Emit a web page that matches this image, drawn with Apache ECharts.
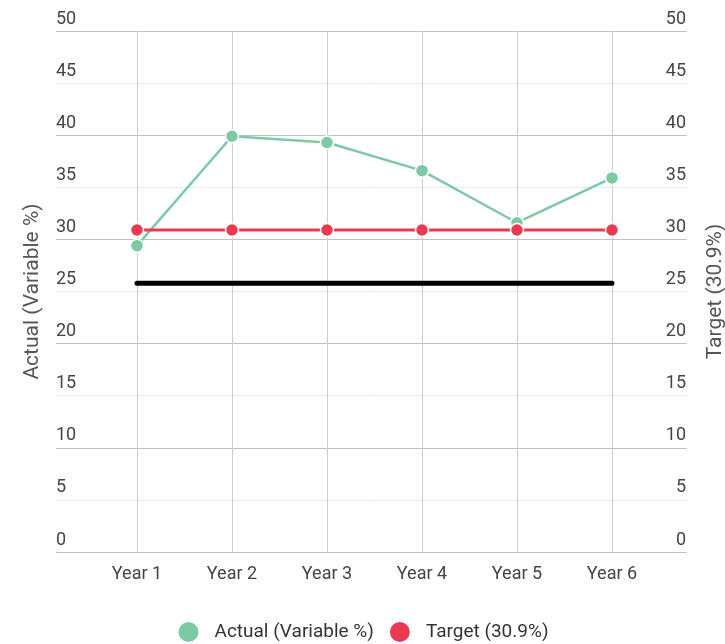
<!DOCTYPE html>
<html>
<head>
<meta charset="utf-8">
<script src="https://cdn.jsdelivr.net/npm/echarts@6/dist/echarts.min.js"></script>
<style>
  html, body { margin: 0; padding: 0; background: #fff; }
  #chart { width: 725px; height: 644px; }
</style>
</head>
<body>
<div id="chart"></div>
<script>
// Categories and series values
const years = ['Year 1', 'Year 2', 'Year 3', 'Year 4', 'Year 5', 'Year 6'];
const actual = [29.4, 39.9, 39.3, 36.6, 31.6, 35.9];
const target = [30.9, 30.9, 30.9, 30.9, 30.9, 30.9];
const baseline = [25.8, 25.8, 25.8, 25.8, 25.8, 25.8];

const yMin = 0, yMax = 50, yStep = 5;
const labelFont = 'Roboto, "Liberation Sans", sans-serif';
const tickColor = '#444';

const chart = echarts.init(document.getElementById('chart'), null, { renderer: 'canvas' });

chart.setOption({
  animation: false,
  backgroundColor: '#fff',
  grid: [
    // outer grid: horizontal gridlines and both value scales
    { left: 56, right: 38, top: 31, bottom: 92, containLabel: false, outerBoundsMode: 'none' },
    // inner grid: categories and series
    { left: 137, right: 113, top: 31, bottom: 92, containLabel: false, outerBoundsMode: 'none' }
  ],
  xAxis: [
    { gridIndex: 0, type: 'value', show: false, min: 0, max: 1 },
    {
      gridIndex: 1, type: 'category', data: years, boundaryGap: false,
      axisLine: { show: false }, axisTick: { show: false },
      axisLabel: { color: tickColor, fontSize: 18, fontFamily: labelFont, margin: 13 },
      splitLine: { show: true, lineStyle: { color: '#cccccc', width: 1 } }
    }
  ],
  yAxis: [
    {
      gridIndex: 0, type: 'value', position: 'left', min: yMin, max: yMax, interval: yStep,
      name: 'Actual (Variable %)', nameLocation: 'middle', nameGap: 13,
      nameTextStyle: { color: '#555', fontSize: 21, fontFamily: labelFont },
      axisLine: { show: false }, axisTick: { show: false },
      axisLabel: {
        inside: true, margin: 0, color: tickColor, fontSize: 18, fontFamily: labelFont,
        verticalAlign: 'bottom', padding: [0, 0, 3, 0]
      },
      splitLine: { show: true, lineStyle: { color: ['#c0c0c0', '#ebebeb'], width: 1 } }
    },
    {
      gridIndex: 0, type: 'value', position: 'right', min: yMin, max: yMax, interval: yStep,
      name: 'Target (30.9%)', nameLocation: 'middle', nameGap: 18, nameRotate: 90,
      nameMoveOverlap: false,
      nameTextStyle: { color: '#555', fontSize: 21, fontFamily: labelFont },
      axisLine: { show: false }, axisTick: { show: false },
      axisLabel: {
        inside: false, margin: -1, align: 'right', color: tickColor, fontSize: 18, fontFamily: labelFont,
        verticalAlign: 'bottom', padding: [0, 0, 3, 0]
      },
      splitLine: { show: false }
    },
    { gridIndex: 1, type: 'value', min: yMin, max: yMax, interval: yStep, show: false }
  ],
  legend: {
    bottom: -5, left: 'center', icon: 'circle', itemWidth: 22, itemHeight: 22, itemGap: 14,
    data: ['Actual (Variable %)', 'Target (30.9%)'],
    textStyle: { color: '#333', fontSize: 19, fontFamily: labelFont, padding: [0, 0, 0, 10] }
  },
  series: [
    {
      name: 'Baseline', type: 'line', xAxisIndex: 1, yAxisIndex: 2, data: baseline,
      symbol: 'none', clip: false, z: 2,
      lineStyle: { color: '#000', width: 5, cap: 'round' }
    },
    {
      name: 'Actual (Variable %)', type: 'line', xAxisIndex: 1, yAxisIndex: 2, data: actual,
      symbol: 'circle', symbolSize: 13, clip: false, z: 3,
      lineStyle: { color: '#7ccaa3', width: 2.5 },
      itemStyle: { color: '#7ccaa3', borderColor: '#fff', borderWidth: 1.5 }
    },
    {
      name: 'Target (30.9%)', type: 'line', xAxisIndex: 1, yAxisIndex: 2, data: target,
      symbol: 'circle', symbolSize: 13, clip: false, z: 4,
      lineStyle: { color: '#ea3a52', width: 3 },
      itemStyle: { color: '#ea3a52', borderColor: '#fff', borderWidth: 1.5 }
    }
  ]
});
</script>
</body>
</html>
